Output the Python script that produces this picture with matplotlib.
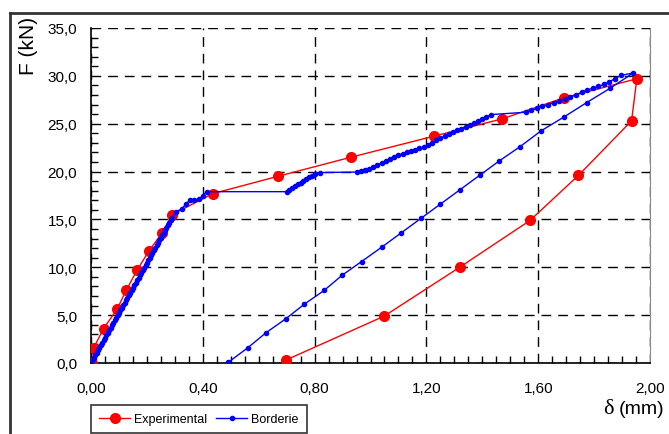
#!/usr/bin/env python3

# Force-displacement curve, experimental vs Borderie model.

import matplotlib.pyplot as plt
from matplotlib.lines import Line2D
from matplotlib.ticker import MultipleLocator, FuncFormatter

plt.rcParams['font.family'] = ['Liberation Sans', 'DejaVu Sans']

# Experimental (load + unload)
exp_d = [0.005, 0.01, 0.045, 0.093, 0.126, 0.165, 0.207, 0.255, 0.29, 0.436,
         0.668, 0.93, 1.227, 1.47, 1.692, 1.953, 1.934, 1.744, 1.571, 1.319,
         1.049, 0.697]
exp_f = [0.0, 1.6, 3.6, 5.6, 7.6, 9.7, 11.7, 13.6, 15.5, 17.7,
         19.5, 21.5, 23.7, 25.5, 27.7, 29.7, 25.3, 19.6, 14.9, 10.0,
         4.9, 0.3]

# Borderie model, loading branch
bord_load_d = [0.000, 0.005, 0.010, 0.015, 0.020, 0.025, 0.030, 0.035, 0.040, 0.045,
               0.050, 0.055, 0.060, 0.065, 0.070, 0.075, 0.080, 0.085, 0.090, 0.095,
               0.100, 0.105, 0.110, 0.115, 0.120, 0.125, 0.130, 0.135, 0.140, 0.145,
               0.150, 0.155, 0.160, 0.165, 0.170, 0.175, 0.180, 0.185, 0.190, 0.195,
               0.200, 0.205, 0.210, 0.215, 0.220, 0.225, 0.230, 0.235, 0.240, 0.245,
               0.250, 0.255, 0.260, 0.265, 0.270, 0.275, 0.280, 0.285, 0.290,
               0.305, 0.324, 0.340, 0.354, 0.370, 0.387, 0.400, 0.414,
               0.700, 0.710, 0.720, 0.730, 0.740, 0.750, 0.760, 0.770, 0.780, 0.790,
               0.800, 0.820,
               0.950, 0.965, 0.980, 0.995, 1.010, 1.025, 1.040, 1.055, 1.070, 1.085,
               1.100, 1.115, 1.130, 1.145, 1.160, 1.175, 1.190, 1.205, 1.220, 1.235,
               1.250, 1.265, 1.280, 1.295, 1.310, 1.325, 1.340, 1.355, 1.370, 1.385,
               1.400, 1.415, 1.430,
               1.556, 1.575, 1.595, 1.615, 1.635, 1.655, 1.675, 1.695, 1.715, 1.735,
               1.755, 1.775, 1.795, 1.815, 1.835, 1.855, 1.875, 1.896, 1.940]
bord_load_f = [0.0, 0.26, 0.52, 0.79, 1.05, 1.31, 1.57, 1.83, 2.10, 2.36,
               2.62, 2.88, 3.14, 3.41, 3.67, 3.93, 4.19, 4.45, 4.72, 4.98,
               5.24, 5.50, 5.76, 6.03, 6.29, 6.55, 6.81, 7.07, 7.34, 7.60,
               7.86, 8.12, 8.38, 8.65, 8.91, 9.17, 9.43, 9.69, 9.96, 10.22,
               10.48, 10.74, 11.00, 11.27, 11.53, 11.79, 12.05, 12.31, 12.58, 12.84,
               13.10, 13.36, 13.62, 13.89, 14.15, 14.41, 14.67, 14.93, 15.20,
               15.8, 16.1, 16.6, 17.05, 17.05, 17.1, 17.5, 17.9,
               17.9, 18.1, 18.3, 18.5, 18.7, 18.8, 19.0, 19.2, 19.4, 19.5,
               19.7, 19.9,
               19.95, 20.05, 20.15, 20.3, 20.5, 20.7, 20.9, 21.1, 21.3, 21.5,
               21.7, 21.85, 22.0, 22.15, 22.3, 22.45, 22.6, 22.8, 23.0, 23.25,
               23.5, 23.7, 23.9, 24.1, 24.3, 24.5, 24.7, 24.9, 25.05, 25.25,
               25.45, 25.7, 25.95,
               26.2, 26.4, 26.6, 26.8, 27.0, 27.2, 27.4, 27.6, 27.8, 28.0,
               28.3, 28.5, 28.7, 28.9, 29.1, 29.4, 29.7, 30.05, 30.3]

# Borderie model, unloading branch
bord_unload_d = [1.857, 1.773, 1.692, 1.610, 1.535, 1.460, 1.390, 1.320,
                 1.250, 1.180, 1.110, 1.040, 0.968, 0.899, 0.834, 0.762, 0.697,
                 0.626, 0.560, 0.491]
bord_unload_f = [28.7, 27.2, 25.7, 24.25, 22.6, 21.1, 19.6, 18.1,
                 16.6, 15.1, 13.6, 12.1, 10.6, 9.18, 7.58, 6.12, 4.62,
                 3.16, 1.57, 0.07]

bord_d = bord_load_d + bord_unload_d
bord_f = bord_load_f + bord_unload_f

fig = plt.figure(figsize=(6.69, 4.35), dpi=100)
ax = fig.add_axes([91 / 669, 71 / 435, 559 / 669, 335 / 435])

ax.plot(exp_d, exp_f, color='#ff0000', lw=1.0, marker='o', ms=7,
        mec='#ff0000', mfc='#ff0000', label='Experimental', zorder=3)
ax.plot(bord_d, bord_f, color='#0000ff', lw=1.0, marker='o', ms=3,
        mec='#0000ff', mfc='#0000ff', label='Borderie', zorder=4)

ax.set_xlim(0, 2.0)
ax.set_ylim(0, 35)
ax.xaxis.set_major_locator(MultipleLocator(0.4))
ax.xaxis.set_minor_locator(MultipleLocator(0.05))
ax.yaxis.set_major_locator(MultipleLocator(5))
ax.yaxis.set_minor_locator(MultipleLocator(1))
ax.xaxis.set_major_formatter(FuncFormatter(lambda v, p: f"{v:.2f}".replace('.', ',')))
ax.yaxis.set_major_formatter(FuncFormatter(lambda v, p: f"{v:.1f}".replace('.', ',')))

ax.tick_params(which='both', direction='in', labelsize=11, colors='black')
ax.tick_params(which='major', length=0)
ax.tick_params(axis='x', which='major', pad=13)
ax.tick_params(axis='y', which='major', pad=10)
ax.tick_params(which='minor', length=5, width=1)

ax.grid(True, which='major', color='black', ls=(0, (7, 5)), lw=1.0)

ax.spines['top'].set_visible(False)
ax.spines['right'].set_color('#888888')
ax.spines['left'].set_linewidth(1.2)
ax.spines['bottom'].set_linewidth(1.2)
ax.set_axisbelow(True)

# Axis titles
fig.text(29 / 669, 1 - 46 / 435, "F (kN)", rotation=90, ha='center', va='center', fontsize=15)
fig.text(603 / 669, 1 - 410 / 435, "δ", family='Liberation Serif', ha='left', va='center', fontsize=16)
fig.text(619 / 669, 1 - 410 / 435, "(mm)", ha='left', va='center', fontsize=14)

# Outer chart frame (cut off by the image edges)
fig.add_artist(Line2D([10 / 669, 1.0], [1 - 14 / 435, 1 - 14 / 435], color='#333333', lw=2))
fig.add_artist(Line2D([10 / 669, 10 / 669], [0.0, 1 - 14 / 435], color='#333333', lw=2))

leg = ax.legend(loc='upper left', bbox_to_anchor=(91 / 669, 1 - 406 / 435),
                bbox_transform=fig.transFigure, ncol=2, fontsize=9,
                frameon=True, fancybox=False, framealpha=1, edgecolor='#333333',
                handlelength=2.5, handletextpad=0.3, columnspacing=0.7,
                borderpad=0.65, borderaxespad=0)
leg.get_frame().set_linewidth(1.2)

plt.savefig("out.png", dpi=100)
plt.close()
